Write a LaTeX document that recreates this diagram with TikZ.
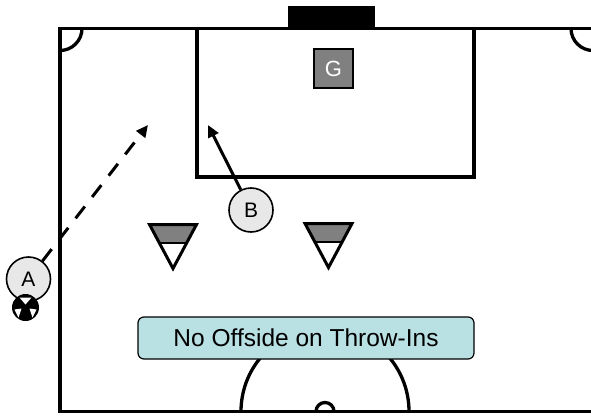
\documentclass[tikz,border=0pt]{standalone}
\usepackage{fontspec}
\setmainfont{Liberation Sans}
\usetikzlibrary{arrows.meta,positioning,calc}
\definecolor{playerfill}{RGB}{232,232,232}
\definecolor{keepergray}{RGB}{128,128,128}
\definecolor{notefill}{RGB}{185,225,228}

\begin{document}
\begin{tikzpicture}[x=1pt,y=1pt,
  fieldline/.style={line width=3.3pt,line join=miter},
  player/.style={draw,circle,line width=1.6pt,fill=playerfill,minimum size=44pt,inner sep=0pt,font=\fontsize{21}{24}\selectfont},
  run/.style={-{Triangle[length=12pt,width=11pt]},line width=3pt},
  pass/.style={run,dash pattern=on 15pt off 12pt},
  cone/.pic={
    \fill[keepergray] (-23.5,0) -- (23.5,0) -- (13.6,-18.5) -- (-13.6,-18.5) -- cycle;
    \draw[line width=1.5pt] (-13.6,-18.5) -- (13.6,-18.5);
    \draw[line width=3pt,line join=miter] (-23.5,0) -- (23.5,0) -- (0,-44) -- cycle;
  }]
  \useasboundingbox (0,0) rectangle (591,416);

  % field
  \draw[fieldline] (591,387.5) -- (60,387.5) -- (60,4.5) -- (591,4.5);
  \draw[fieldline] (82,387.5) arc[start angle=0,end angle=-90,radius=22];
  \draw[fieldline] (571,387.5) arc[start angle=180,end angle=270,radius=22];
  \draw[fieldline] (197,387.5) |- (474,239) -- (474,387.5);
  \draw[fieldline] (241,4.5) arc[start angle=180,end angle=0,radius=84];
  \draw[fieldline] (316,4.5) arc[start angle=180,end angle=0,radius=9];
  \node[fill=black,minimum width=87pt,minimum height=22pt,inner sep=0pt] (goal) at (331.5,399) {};

  % players
  \node[draw,fill=keepergray,line width=1.4pt,minimum size=39pt,inner sep=0pt,text=white,font=\fontsize{22}{24}\selectfont] (G) at (333.5,347.5) {G};
  \node[player] (B) at (251,206) {B};
  \node[player] (A) at (28.5,137) {A};
  \node[circle,fill=black,minimum size=27pt,inner sep=0pt] (ball) at (25.5,108.5) {};
  \begin{scope}[shift={(ball)}]
    \fill[white] (-6,10) -- (6,10) -- (0,3) -- cycle;
    \fill[white] (-11,-2) -- (-4,-1) -- (-7,-10) -- cycle;
    \fill[white] (11,-2) -- (4,-1) -- (7,-10) -- cycle;
  \end{scope}

  % cones
  \pic at (173,191.5) {cone};
  \pic at (328.5,192.5) {cone};

  % movement
  \coordinate (passA) at (148,291);
  \coordinate (runB) at (208,291);
  \draw[pass] (A) -- (passA);
  \draw[run] (B) -- (runB);

  \node[draw,rounded corners=6pt,fill=notefill,line width=1.2pt,minimum width=336pt,minimum height=42pt,inner sep=0pt,font=\fontsize{24.5}{28}\selectfont] (note) at (306,78) {No Offside on Throw-Ins};
\end{tikzpicture}
\end{document}
